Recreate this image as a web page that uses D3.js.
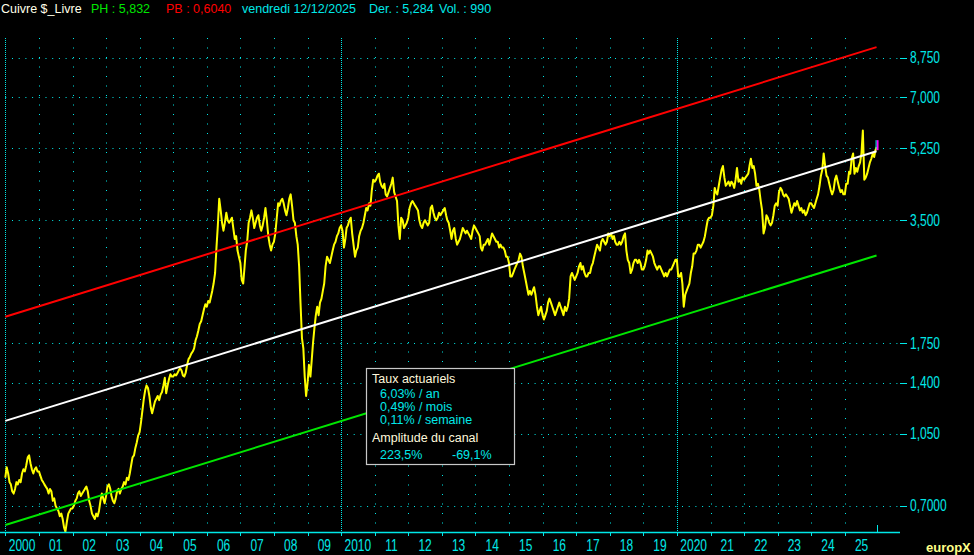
<!DOCTYPE html>
<html><head><meta charset="utf-8">
<script src="https://cdn.jsdelivr.net/npm/d3@7"></script>
<style>
html,body{margin:0;padding:0;background:#000;}
svg{display:block;background:#000;}
text{font-family:"Liberation Sans",Arial,sans-serif;}
</style></head><body>
<svg id="chart" width="974" height="555"></svg>
<script>
// ---------- header ----------
const instrument = "Cuivre $_Livre";
const highLabel = "PH : 5,832";
const lowLabel = "PB : 0,6040";
const dateLabel = "vendredi 12/12/2025";
const lastLabel = "Der. : 5,284";
const volLabel = "Vol. : 990";

// ---------- price series: closes on the 1st and 16th of each month, $ per pound ----------
const firstYear = 2000;
const semiMonthlyCloses = [
  /*2000*/ 0.82,0.87,0.84,0.80,0.79,0.76,0.75,0.77,0.80,0.79,0.81,0.80,0.84,0.86,0.85,0.88,0.92,0.93,0.89,0.86,0.84,0.86,0.87,0.85,
  /*2001*/ 0.85,0.83,0.81,0.80,0.79,0.78,0.77,0.75,0.77,0.76,0.72,0.73,0.70,0.69,0.68,0.66,0.67,0.65,0.62,0.605,0.64,0.67,0.68,0.69,
  /*2002*/ 0.69,0.70,0.72,0.73,0.75,0.76,0.74,0.75,0.76,0.77,0.78,0.76,0.72,0.70,0.67,0.66,0.65,0.67,0.66,0.68,0.72,0.75,0.73,0.71,
  /*2003*/ 0.74,0.78,0.79,0.77,0.74,0.72,0.71,0.73,0.76,0.77,0.75,0.77,0.78,0.80,0.79,0.82,0.81,0.84,0.88,0.92,0.93,0.97,1.00,1.04,
  /*2004*/ 1.06,1.12,1.20,1.28,1.34,1.38,1.36,1.30,1.22,1.18,1.22,1.26,1.28,1.30,1.27,1.31,1.33,1.38,1.44,1.32,1.38,1.43,1.47,1.45,
  /*2005*/ 1.45,1.47,1.46,1.48,1.50,1.52,1.50,1.46,1.45,1.48,1.55,1.60,1.62,1.65,1.67,1.70,1.78,1.82,1.88,1.95,1.98,2.05,2.12,2.18,
  /*2006*/ 2.15,2.22,2.20,2.28,2.35,2.45,2.60,3.00,3.40,3.95,3.70,3.45,3.30,3.45,3.65,3.50,3.45,3.50,3.55,3.35,3.15,3.20,2.95,2.85,
  /*2007*/ 2.75,2.50,2.45,2.70,2.95,3.10,3.45,3.55,3.70,3.55,3.35,3.45,3.55,3.60,3.40,3.30,3.40,3.55,3.75,3.50,3.20,3.05,2.95,3.05,
  /*2008*/ 3.10,3.25,3.55,3.85,3.80,3.90,3.95,3.85,3.70,3.60,3.75,3.95,4.05,3.80,3.50,3.45,3.20,3.05,2.70,2.20,1.80,1.70,1.45,1.30,
  /*2009*/ 1.40,1.55,1.45,1.60,1.75,1.90,2.05,2.15,2.05,2.20,2.25,2.35,2.45,2.70,2.85,2.80,2.75,2.85,2.95,3.05,3.10,3.20,3.25,3.35,
  /*2010*/ 3.40,3.30,3.00,3.15,3.35,3.40,3.50,3.55,3.25,3.05,2.85,2.95,3.00,3.20,3.30,3.35,3.45,3.60,3.75,3.70,3.85,3.80,4.15,4.40,
  /*2011*/ 4.35,4.40,4.50,4.55,4.35,4.25,4.20,4.30,4.05,4.00,4.10,4.20,4.30,4.45,4.10,4.00,3.90,3.40,3.15,3.55,3.50,3.35,3.40,3.45,
  /*2012*/ 3.55,3.75,3.85,3.90,3.85,3.80,3.75,3.70,3.50,3.40,3.35,3.45,3.50,3.45,3.40,3.45,3.75,3.80,3.65,3.55,3.50,3.55,3.65,3.60,
  /*2013*/ 3.65,3.70,3.75,3.60,3.50,3.45,3.30,3.15,3.30,3.35,3.15,3.05,3.10,3.15,3.25,3.35,3.30,3.25,3.30,3.25,3.20,3.15,3.30,3.40,
  /*2014*/ 3.35,3.30,3.25,3.20,3.00,2.95,3.05,3.05,3.10,3.15,3.05,3.15,3.25,3.20,3.15,3.10,3.10,3.00,3.05,3.00,3.00,2.95,2.85,2.85,
  /*2015*/ 2.75,2.55,2.55,2.60,2.65,2.70,2.75,2.80,2.90,2.85,2.70,2.60,2.50,2.40,2.30,2.35,2.30,2.35,2.40,2.30,2.15,2.05,2.10,2.15,
  /*2016*/ 2.05,2.00,2.05,2.10,2.20,2.25,2.20,2.15,2.10,2.05,2.10,2.15,2.20,2.15,2.10,2.05,2.15,2.10,2.15,2.25,2.55,2.60,2.55,2.50,
  /*2017*/ 2.55,2.60,2.70,2.75,2.65,2.70,2.60,2.55,2.55,2.60,2.60,2.70,2.75,2.85,2.95,3.05,3.00,2.95,3.10,3.15,3.10,3.05,3.10,3.25,
  /*2018*/ 3.20,3.25,3.15,3.20,3.10,3.05,3.05,3.10,3.05,3.10,3.20,3.25,2.95,2.80,2.75,2.60,2.65,2.75,2.80,2.80,2.75,2.80,2.75,2.65,
  /*2019*/ 2.65,2.70,2.80,2.95,2.90,2.95,2.90,2.85,2.75,2.70,2.65,2.70,2.70,2.65,2.60,2.55,2.60,2.55,2.60,2.65,2.65,2.70,2.75,2.80,
  /*2020*/ 2.80,2.55,2.55,2.60,2.45,2.15,2.30,2.35,2.40,2.45,2.60,2.70,2.90,2.90,2.95,3.05,3.05,3.00,3.05,3.10,3.20,3.35,3.50,3.55,
  /*2021*/ 3.55,3.60,3.80,4.20,4.10,4.05,4.25,4.45,4.65,4.75,4.45,4.25,4.30,4.35,4.25,4.35,4.30,4.20,4.40,4.70,4.35,4.40,4.30,4.45,
  /*2022*/ 4.40,4.45,4.50,4.55,4.75,4.95,4.70,4.75,4.55,4.25,4.30,4.15,3.90,3.70,3.25,3.35,3.60,3.55,3.45,3.40,3.45,3.60,3.80,3.85,
  /*2023*/ 3.80,4.10,4.20,4.15,4.05,4.00,4.05,4.00,3.95,3.80,3.65,3.75,3.85,3.80,3.90,3.80,3.70,3.75,3.65,3.70,3.60,3.65,3.75,3.85,
  /*2024*/ 3.85,3.80,3.75,3.85,3.95,4.05,4.25,4.50,4.65,5.10,4.75,4.50,4.45,4.30,4.15,4.05,4.15,4.40,4.50,4.35,4.20,4.10,4.15,4.05,
  /*2025*/ 4.05,4.30,4.30,4.60,4.55,4.95,5.10,4.55,4.70,4.60,4.75,4.85,5.10,5.80,4.40,4.45,4.55,4.70,4.85,4.95,5.10,5.00,5.20
];
const lastDate = "2025-12-12";
const lastClose = 5.284;

// ---------- regression channel ----------
const channelStartDate = "2000-01-01";
const channelStartValue = 1.13;
const annualRate = 0.0603;       // 6,03 % / an
const channelAmplitude = 2.235;  // 223,5 %

// ---------- axes ----------
const yTickValues = [0.7, 1.05, 1.4, 1.75, 3.5, 5.25, 7.0, 8.75];
const yTickLabels = ["0,7000", "1,050", "1,400", "1,750", "3,500", "5,250", "7,000", "8,750"];
const yearTicks = d3.range(2000, 2026);
const yearLabels = ["2000","01","02","03","04","05","06","07","08","09","2010","11","12","13","14","15","16","17","18","19","2020","21","22","23","24","25"];
const decadeYears = [2000, 2010, 2020];

// ---------- info box ----------
const boxTitle1 = "Taux actuariels";
const rateLines = ["6,03% / an", "0,49% / mois", "0,11% / semaine"];
const boxTitle2 = "Amplitude du canal";
const amplitudeUp = "223,5%";
const amplitudeDown = "-69,1%";

// ================= drawing =================
const CYAN = "#00e8e8";
const svg = d3.select("#chart");
const parse = d3.timeParse("%Y-%m-%d");

const plotLeft = 5.3, plotTop = 38, plotBottom = 532, plotRight = 898;
const x = d3.scaleTime()
  .domain([new Date(2000, 0, 1), new Date(2026, 0, 1)])
  .range([plotLeft, plotLeft + 26 * 33.58]);
const y = d3.scaleLog().domain([0.604, 9.775]).range([plotBottom, plotTop]);

const series = semiMonthlyCloses.map((v, i) => ({
  date: new Date(firstYear + Math.floor(i / 24), Math.floor((i % 24) / 2), (i % 2) ? 16 : 1),
  value: v
}));
series.push({ date: parse(lastDate), value: lastClose });

// grid: horizontal dotted lines
const grid = svg.append("g");
grid.selectAll("line.h").data(yTickValues).join("line")
  .attr("x1", plotLeft).attr("x2", plotRight)
  .attr("y1", d => Math.round(y(d)) + 0.5).attr("y2", d => Math.round(y(d)) + 0.5)
  .attr("stroke", CYAN).attr("stroke-width", 1).attr("stroke-dasharray", "1,5.7");
// vertical year lines
grid.selectAll("line.v").data(yearTicks).join("line")
  .attr("x1", d => Math.round(x(new Date(d, 0, 1))) + 0.5)
  .attr("x2", d => Math.round(x(new Date(d, 0, 1))) + 0.5)
  .attr("y1", plotTop).attr("y2", plotBottom)
  .attr("stroke", CYAN).attr("stroke-width", 1)
  .attr("stroke-dasharray", d => decadeYears.includes(d) ? "1,1" : "1,8.5");

// price line
const line = d3.line().x(d => x(d.date)).y(d => y(d.value));
svg.append("path").datum(series)
  .attr("d", line).attr("fill", "none")
  .attr("stroke", "#ffff00").attr("stroke-width", 2).attr("stroke-linejoin", "round");

// channel lines
const cStart = parse(channelStartDate), cEnd = parse(lastDate);
const yearsSpan = (cEnd - cStart) / (365.25 * 864e5);
const midEnd = channelStartValue * Math.pow(1 + annualRate, yearsSpan);
const half = Math.sqrt(1 + channelAmplitude);
const channels = [
  { factor: half, color: "#ff0000" },
  { factor: 1, color: "#ffffff" },
  { factor: 1 / half, color: "#00e600" }
];
svg.selectAll("line.ch").data(channels).join("line")
  .attr("x1", x(cStart)).attr("x2", x(cEnd))
  .attr("y1", d => y(channelStartValue * d.factor))
  .attr("y2", d => y(midEnd * d.factor))
  .attr("stroke", d => d.color).attr("stroke-width", 2);

// last-price marker
const lx = x(parse(lastDate)), ly = y(lastClose);
svg.append("rect").attr("x", lx).attr("y", ly - 7).attr("width", 2).attr("height", 10).attr("fill", "#ff00ff");
svg.append("line").attr("x1", lx - 0.5).attr("x2", lx - 0.5).attr("y1", ly - 7).attr("y2", ly + 2).attr("stroke", CYAN);

// x axis
svg.append("line").attr("x1", 0).attr("x2", 900).attr("y1", 532.5).attr("y2", 532.5).attr("stroke", CYAN).attr("stroke-width", 1.3);
svg.selectAll("line.xt").data(yearTicks).join("line")
  .attr("x1", d => Math.round(x(new Date(d, 0, 1))) + 0.5)
  .attr("x2", d => Math.round(x(new Date(d, 0, 1))) + 0.5)
  .attr("y1", 532).attr("y2", 536).attr("stroke", CYAN);
svg.append("line").attr("x1", Math.round(lx) + 0.5).attr("x2", Math.round(lx) + 0.5)
  .attr("y1", 525).attr("y2", 532).attr("stroke", CYAN);
svg.selectAll("text.xl").data(yearTicks).join("text")
  .attr("transform", (d) => `translate(${x(new Date(d, 6, 2))},551) scale(1,1.3)`)
  .attr("text-anchor", "middle").attr("font-size", 12).attr("fill", CYAN)
  .text((d, i) => yearLabels[i]);

// y axis (right)
svg.selectAll("line.yt").data(yTickValues).join("line")
  .attr("x1", 900).attr("x2", 907)
  .attr("y1", d => Math.round(y(d)) + 0.5).attr("y2", d => Math.round(y(d)) + 0.5)
  .attr("stroke", CYAN);
svg.selectAll("text.yl").data(yTickValues).join("text")
  .attr("transform", d => `translate(910,${y(d) + 5.5}) scale(1,1.3)`)
  .attr("font-size", 12).attr("fill", CYAN)
  .text((d, i) => yTickLabels[i]);

// header
const header = [
  { t: instrument, x: 1, c: "#ffffe8" },
  { t: highLabel, x: 91, c: "#00e600" },
  { t: lowLabel, x: 166, c: "#ff0000" },
  { t: dateLabel, x: 242, c: CYAN },
  { t: lastLabel, x: 369, c: CYAN },
  { t: volLabel, x: 439, c: CYAN }
];
svg.selectAll("text.hd").data(header).join("text")
  .attr("x", d => d.x).attr("y", 13).attr("font-size", 12.5).attr("fill", d => d.c)
  .text(d => d.t);

// info box
const box = svg.append("g");
box.append("rect").attr("x", 366.5).attr("y", 368.5).attr("width", 148).attr("height", 96)
  .attr("fill", "#000").attr("stroke", "#c8c8c8").attr("stroke-width", 1.2);
box.append("text").attr("x", 372).attr("y", 383).attr("font-size", 12.5).attr("fill", "#fff8dc").text(boxTitle1);
box.selectAll("text.rl").data(rateLines).join("text")
  .attr("x", 380).attr("y", (d, i) => 398 + i * 13.2).attr("font-size", 12.5).attr("fill", CYAN).text(d => d);
box.append("text").attr("x", 372).attr("y", 442).attr("font-size", 12.5).attr("fill", "#fff8dc").text(boxTitle2);
box.append("text").attr("x", 380).attr("y", 459).attr("font-size", 12.5).attr("fill", CYAN).text(amplitudeUp);
box.append("text").attr("x", 452).attr("y", 459).attr("font-size", 12.5).attr("fill", CYAN).text(amplitudeDown);

// brand
svg.append("text").attr("x", 926).attr("y", 552).attr("font-size", 13).attr("font-weight", "bold")
  .attr("fill", "#ffff88").text("europX");
</script>
</body></html>
